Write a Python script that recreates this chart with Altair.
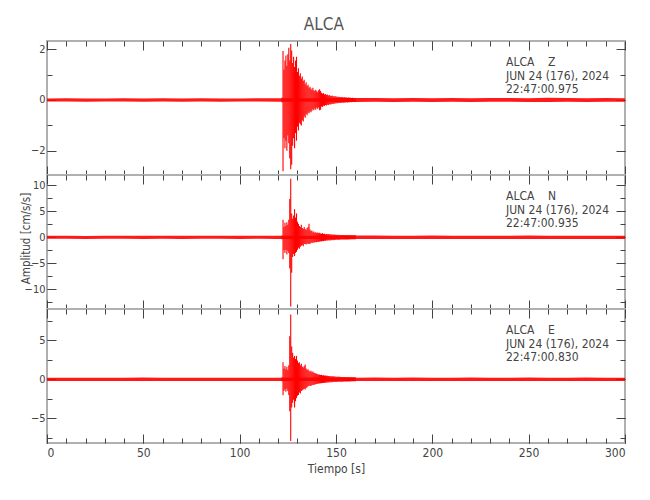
import altair as alt
import pandas as pd

# ---------------- data ----------------
NOISE_T = [0, 10, 20, 30, 40, 50, 60, 70, 80, 90, 100, 110, 120, 130, 140, 150,
           160, 170, 180, 190, 200, 210, 220, 230, 240, 250, 260, 270, 280, 290, 300]

Z_NOISE_HI = [0.06, 0.07, 0.06, 0.06, 0.07, 0.06, 0.07, 0.06, 0.07, 0.06, 0.06, 0.07, 0.07, 0.07, 0.07, 0.08,
              0.08, 0.08, 0.07, 0.08, 0.07, 0.08, 0.07, 0.08, 0.08, 0.07, 0.09, 0.08, 0.07, 0.08, 0.07]
Z_NOISE_LO = [-0.06, -0.06, -0.07, -0.06, -0.06, -0.07, -0.06, -0.07, -0.06, -0.07, -0.06, -0.06, -0.07, -0.07, -0.07, -0.08,
              -0.08, -0.07, -0.08, -0.07, -0.08, -0.07, -0.08, -0.07, -0.07, -0.08, -0.08, -0.07, -0.08, -0.07, -0.07]
N_NOISE_HI = [0.28, 0.30, 0.27, 0.29, 0.31, 0.28, 0.30, 0.29, 0.28, 0.31, 0.29, 0.30, 0.31, 0.31, 0.32, 0.33,
              0.33, 0.33, 0.32, 0.31, 0.33, 0.31, 0.32, 0.30, 0.31, 0.33, 0.31, 0.30, 0.32, 0.31, 0.30]
N_NOISE_LO = [-0.29, -0.28, -0.30, -0.28, -0.29, -0.31, -0.28, -0.30, -0.29, -0.28, -0.30, -0.29, -0.31, -0.31, -0.32, -0.33,
              -0.33, -0.32, -0.33, -0.32, -0.31, -0.33, -0.31, -0.32, -0.33, -0.31, -0.32, -0.31, -0.30, -0.32, -0.31]
E_NOISE_HI = [0.20, 0.21, 0.19, 0.21, 0.20, 0.22, 0.20, 0.21, 0.19, 0.21, 0.20, 0.21, 0.21, 0.22, 0.22, 0.22,
              0.21, 0.22, 0.21, 0.22, 0.21, 0.20, 0.22, 0.21, 0.21, 0.22, 0.20, 0.21, 0.22, 0.21, 0.20]
E_NOISE_LO = [-0.21, -0.20, -0.21, -0.20, -0.22, -0.20, -0.21, -0.20, -0.21, -0.20, -0.22, -0.21, -0.21, -0.22, -0.22, -0.22,
              -0.21, -0.21, -0.22, -0.21, -0.20, -0.22, -0.21, -0.20, -0.22, -0.21, -0.22, -0.20, -0.21, -0.22, -0.21]

BURST_T = [122.0, 122.5, 123.0, 123.5, 124.0, 124.5, 125.0, 125.5, 126.0, 126.5,
           127.0, 127.5, 128.0, 128.5, 129.0, 129.5, 130.0, 130.5, 131.0, 131.5,
           132.0, 132.5, 133.0, 133.5, 134.0, 134.5, 135.0, 135.5, 136.0, 136.5,
           137.0, 137.5, 138.0, 138.5, 139.0, 139.5, 140.0, 140.5, 141.0, 141.5,
           142.0, 142.5, 143.0, 143.5, 144.0, 144.5, 145.0, 145.5, 146.0, 146.5,
           147.0, 147.5, 148.0, 148.5, 149.0, 149.5, 150.0, 150.5, 151.0, 151.5,
           152.0, 152.5, 153.0, 153.5, 154.0, 154.5, 155.0, 155.5, 156.0, 156.5,
           157.0, 157.5, 158.0, 158.5, 159.0, 159.5, 160.0]

Z_BURST_HI = [0.10, 1.93, 1.20, 1.55, 1.75, 1.35, 1.80, 2.05, 1.55, 2.20,
              1.95, 1.45, 1.70, 1.30, 1.55, 1.70, 1.10, 1.25, 0.95, 1.05,
              0.85, 0.92, 0.75, 0.80, 0.62, 0.70, 0.55, 0.60, 0.48, 0.52,
              0.45, 0.40, 0.48, 0.38, 0.35, 0.40, 0.34, 0.30, 0.38, 0.42,
              0.35, 0.28, 0.25, 0.27, 0.22, 0.24, 0.20, 0.22, 0.18, 0.20,
              0.17, 0.16, 0.18, 0.15, 0.14, 0.16, 0.13, 0.14, 0.12, 0.13,
              0.12, 0.11, 0.12, 0.11, 0.10, 0.11, 0.10, 0.10, 0.09, 0.10,
              0.09, 0.09, 0.08, 0.09, 0.08, 0.08, 0.08]
Z_BURST_LO = [-0.10, -2.80, -1.50, -1.90, -1.60, -2.00, -1.40, -1.70, -2.30, -2.72,
              -2.55, -1.80, -1.50, -1.90, -1.30, -1.60, -1.05, -1.20, -0.90, -0.95,
              -1.00, -0.80, -0.85, -0.65, -0.70, -0.55, -0.60, -0.50, -0.52, -0.45,
              -0.48, -0.42, -0.36, -0.40, -0.33, -0.38, -0.30, -0.34, -0.30, -0.40,
              -0.38, -0.26, -0.27, -0.22, -0.24, -0.20, -0.22, -0.19, -0.20, -0.17,
              -0.18, -0.17, -0.15, -0.16, -0.15, -0.13, -0.14, -0.12, -0.13, -0.12,
              -0.11, -0.12, -0.11, -0.10, -0.11, -0.10, -0.10, -0.09, -0.10, -0.09,
              -0.09, -0.08, -0.09, -0.08, -0.08, -0.08, -0.08]

N_BURST_HI = [0.35, 3.4, 2.0, 2.8, 2.2, 2.9, 2.4, 3.4, 7.4, 11.3,
              4.6, 3.6, 4.2, 5.4, 3.8, 4.6, 3.0, 2.6, 2.2, 2.0,
              2.4, 1.8, 1.6, 2.0, 1.6, 1.4, 1.8, 2.0, 2.6, 1.5,
              1.2, 1.3, 1.0, 1.1, 0.9, 1.0, 0.85, 0.95, 0.8, 0.9,
              0.75, 0.7, 0.8, 0.65, 0.7, 0.6, 0.65, 0.6, 0.62, 0.55,
              0.6, 0.52, 0.55, 0.5, 0.52, 0.48, 0.5, 0.46, 0.48, 0.45,
              0.47, 0.44, 0.45, 0.42, 0.44, 0.42, 0.43, 0.40, 0.42, 0.40,
              0.41, 0.39, 0.40, 0.38, 0.39, 0.38, 0.38]
N_BURST_LO = [-0.35, -4.2, -2.5, -3.0, -2.4, -3.3, -2.6, -3.0, -6.0, -13.3,
              -6.8, -3.8, -3.2, -3.6, -3.0, -2.8, -2.4, -2.0, -2.2, -1.8,
              -1.6, -1.5, -1.7, -1.3, -1.3, -1.4, -1.2, -1.3, -1.2, -1.3,
              -1.1, -1.0, -1.1, -0.95, -1.0, -0.9, -0.95, -0.85, -0.9, -0.8,
              -0.75, -0.8, -0.7, -0.72, -0.65, -0.68, -0.6, -0.62, -0.58, -0.6,
              -0.55, -0.56, -0.52, -0.54, -0.5, -0.5, -0.48, -0.48, -0.46, -0.47,
              -0.45, -0.44, -0.44, -0.43, -0.42, -0.42, -0.41, -0.41, -0.40, -0.40,
              -0.39, -0.39, -0.39, -0.38, -0.38, -0.38, -0.38]

E_BURST_HI = [0.25, 2.2, 1.4, 1.7, 1.3, 1.6, 1.2, 1.8, 5.5, 8.3,
              4.2, 3.4, 2.8, 3.0, 2.6, 3.0, 2.4, 2.1, 2.2, 1.8,
              2.0, 1.6, 1.5, 1.7, 1.9, 1.4, 1.2, 1.3, 1.1, 1.0,
              1.1, 0.9, 1.0, 0.85, 0.8, 0.75, 0.7, 0.65, 0.6, 0.62,
              0.55, 0.58, 0.5, 0.52, 0.48, 0.5, 0.45, 0.46, 0.42, 0.44,
              0.4, 0.4, 0.38, 0.38, 0.36, 0.36, 0.34, 0.34, 0.33, 0.32,
              0.32, 0.31, 0.30, 0.30, 0.29, 0.29, 0.28, 0.28, 0.28, 0.27,
              0.27, 0.27, 0.26, 0.26, 0.26, 0.26, 0.25]
E_BURST_LO = [-0.25, -2.05, -1.5, -1.3, -1.6, -1.2, -1.5, -2.0, -4.1, -7.9,
              -3.6, -3.0, -2.6, -3.6, -2.8, -2.4, -2.1, -2.0, -1.7, -1.8,
              -1.5, -1.4, -1.3, -1.2, -1.3, -1.1, -1.0, -0.9, -0.85, -0.8,
              -0.85, -0.75, -0.7, -0.72, -0.65, -0.62, -0.6, -0.58, -0.55, -0.52,
              -0.5, -0.5, -0.47, -0.46, -0.44, -0.43, -0.42, -0.41, -0.4, -0.39,
              -0.38, -0.37, -0.36, -0.35, -0.35, -0.34, -0.33, -0.33, -0.32, -0.32,
              -0.31, -0.31, -0.30, -0.30, -0.29, -0.29, -0.28, -0.28, -0.28, -0.27,
              -0.27, -0.27, -0.26, -0.26, -0.26, -0.26, -0.25]

X_MAJOR = [0, 50, 100, 150, 200, 250, 300]
X_MINOR = [0, 10, 20, 30, 40, 50, 60, 70, 80, 90, 100, 110, 120, 130, 140, 150, 160, 170, 180,
           190, 200, 210, 220, 230, 240, 250, 260, 270, 280, 290, 300]
Z_MAJOR, Z_MINOR = [-2, 0, 2], [-2, -1, 0, 1, 2]
N_MAJOR, N_MINOR = [-10, -5, 0, 5, 10], [-12.5, -10, -7.5, -5, -2.5, 0, 2.5, 5, 7.5, 10]
E_MAJOR, E_MINOR = [-5, 0, 5], [-7.5, -5, -2.5, 0, 2.5, 5, 7.5]
Z_DOMAIN, N_DOMAIN, E_DOMAIN = [-2.95, 2.32], [-13.8, 12.0], [-8.15, 9.0]

Z_TEXT = "ALCA\u00a0\u00a0\u00a0\u00a0Z\nJUN 24 (176), 2024\n22:47:00.975"
N_TEXT = "ALCA\u00a0\u00a0\u00a0\u00a0N\nJUN 24 (176), 2024\n22:47:00.935"
E_TEXT = "ALCA\u00a0\u00a0\u00a0\u00a0E\nJUN 24 (176), 2024\n22:47:00.830"

# ---------------- styling ----------------
W, H = 578, 134
FONT = "Liberation Sans Narrow, DejaVu Sans Condensed, Liberation Sans, sans-serif"
TXT = "#444444"
TICK = "#444444"
RED = "#ff0000"


def tick_axis(values, orient, offset, size):
    return alt.Axis(values=values, orient=orient, offset=offset, tickSize=size,
                    labels=False, domain=False, grid=False, title=None,
                    tickColor=TICK, tickWidth=1)


def panel(domain, major, minor, nhi, nlo, bhi, blo, text, bottom=False, ytitle=False):
    noise = pd.DataFrame({"t": NOISE_T, "hi": nhi, "lo": nlo})
    burst = pd.DataFrame({"t": BURST_T, "hi": bhi, "lo": blo})
    xs = alt.Scale(domain=[0, 300], nice=False, zero=False)
    ys = alt.Scale(domain=domain, nice=False, zero=False)

    if bottom:
        xlab = alt.Axis(values=X_MAJOR, orient="bottom", ticks=False, tickSize=0, domain=False,
                        grid=False, labelPadding=4, labelFont=FONT, labelFontSize=12,
                        labelColor=TXT, title="Tiempo [s]", titleFont=FONT, titleFontSize=12,
                        titleFontWeight="normal", titleColor=TXT, titlePadding=5)
    else:
        xlab = None
    if ytitle:
        ylab = alt.Axis(values=major, orient="left", ticks=False, tickSize=0, domain=False,
                        grid=False, labelPadding=2, labelFont=FONT, labelFontSize=11,
                        labelColor=TXT, title="Amplitud [cm/s/s]", titleFont=FONT,
                        titleFontSize=11.5, titleFontWeight="normal", titleColor=TXT,
                        titleX=-21, titleY=63, titleBaseline="middle", titleAngle=270)
    else:
        ylab = alt.Axis(values=major, orient="left", ticks=False, tickSize=0, domain=False,
                        grid=False, labelPadding=2, labelFont=FONT, labelFontSize=11,
                        labelColor=TXT, title=None)

    base_noise = alt.Chart(noise)
    area = base_noise.mark_area(color=RED, opacity=0.9).encode(
        x=alt.X("t:Q", scale=xs, axis=xlab),
        y=alt.Y("lo:Q", scale=ys, axis=ylab),
        y2="hi:Q",
    )
    rules = alt.Chart(burst).mark_rule(color=RED, strokeWidth=1.1).encode(
        x=alt.X("t:Q", scale=xs, axis=tick_axis(X_MAJOR, "bottom", -H, 9)),
        y=alt.Y("lo:Q", scale=ys, axis=tick_axis(major, "right", -W, 9)),
        y2="hi:Q",
    )
    d1 = base_noise.mark_point(opacity=0).encode(
        x=alt.X("t:Q", scale=xs, axis=tick_axis(X_MAJOR, "top", -H, 9)),
        y=alt.Y("hi:Q", scale=ys, axis=tick_axis(major, "left", -W, 9)),
    )
    d2 = base_noise.mark_point(opacity=0).encode(
        x=alt.X("t:Q", scale=xs, axis=tick_axis(X_MINOR, "bottom", -H, 5)),
        y=alt.Y("hi:Q", scale=ys, axis=tick_axis(minor, "right", -W, 5)),
    )
    d3 = base_noise.mark_point(opacity=0).encode(
        x=alt.X("t:Q", scale=xs, axis=tick_axis(X_MINOR, "top", -H, 5)),
        y=alt.Y("hi:Q", scale=ys, axis=tick_axis(minor, "left", -W, 5)),
    )
    label = alt.Chart(pd.DataFrame({"k": [0]})).mark_text(
        align="left", baseline="top", font=FONT, fontSize=12, color=TXT,
        lineBreak="\n", lineHeight=13.5,
    ).encode(x=alt.value(459), y=alt.value(16), text=alt.value(text))

    return alt.layer(area, rules, d1, d2, d3, label).resolve_axis(
        x="independent", y="independent").properties(width=W, height=H)


p1 = panel(Z_DOMAIN, Z_MAJOR, Z_MINOR, Z_NOISE_HI, Z_NOISE_LO, Z_BURST_HI, Z_BURST_LO, Z_TEXT)
p2 = panel(N_DOMAIN, N_MAJOR, N_MINOR, N_NOISE_HI, N_NOISE_LO, N_BURST_HI, N_BURST_LO, N_TEXT,
           ytitle=True)
p3 = panel(E_DOMAIN, E_MAJOR, E_MINOR, E_NOISE_HI, E_NOISE_LO, E_BURST_HI, E_BURST_LO, E_TEXT,
           bottom=True)

chart = alt.vconcat(p1, p2, p3, spacing=0, bounds="flush").properties(
    title=alt.TitleParams("ALCA", font=FONT, fontSize=17, fontWeight="normal",
                          color="#555555", offset=6, anchor="middle"),
    padding={"left": 10, "top": 7, "right": 5, "bottom": 5},
).configure_view(stroke="#b0b0b0", strokeWidth=2).configure_axis(grid=False, domain=False)

chart.save("out.html", embed_options={"renderer": "svg", "actions": False})
